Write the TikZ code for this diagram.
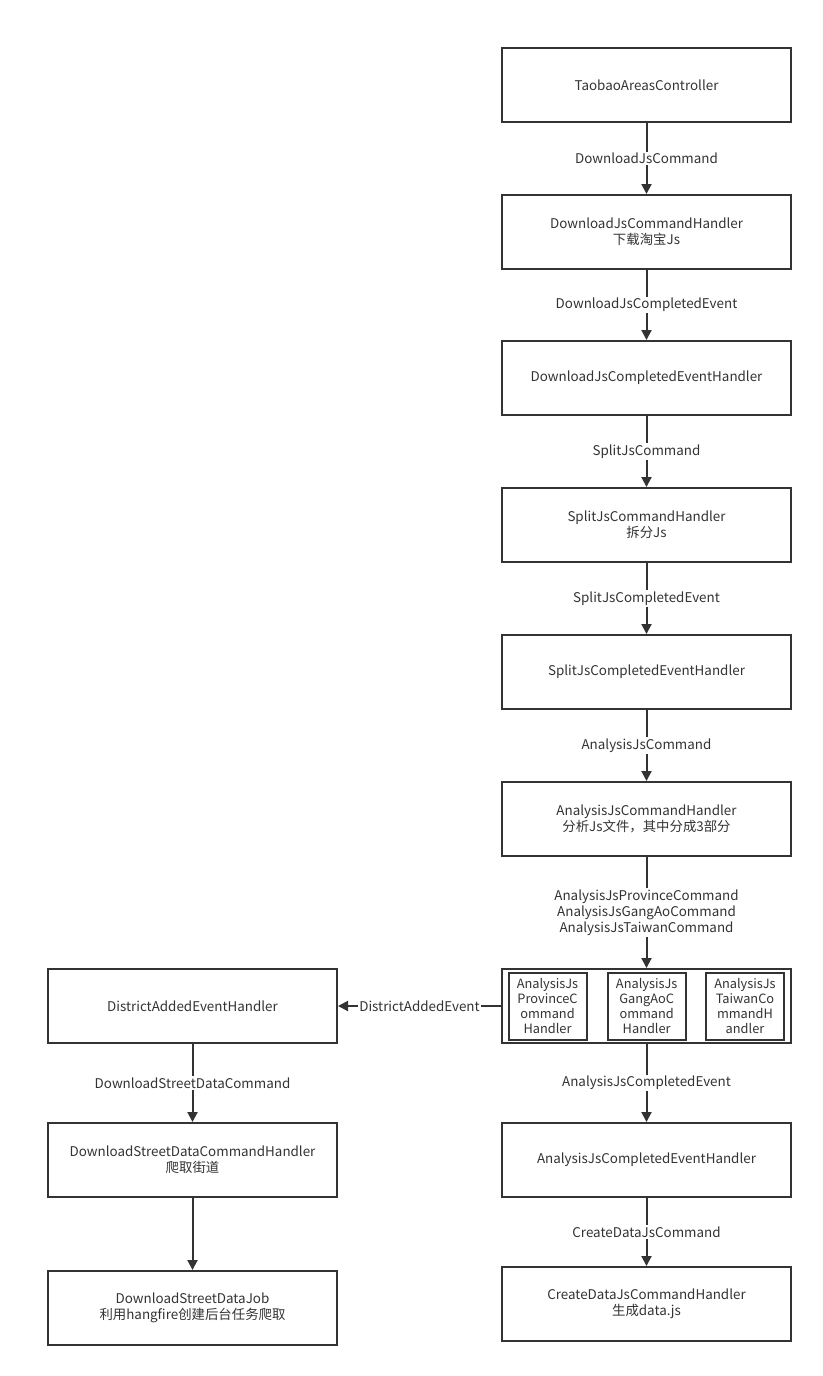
\documentclass[tikz,border=0pt]{standalone}
\usepackage{fontspec}
\setmainfont{Noto Sans CJK SC}
\usetikzlibrary{arrows.meta}
\definecolor{ln}{HTML}{333333}
\definecolor{tx}{HTML}{333333}
\tikzset{
  box/.style={draw=ln, line width=2pt, minimum width=289pt, minimum height=74pt, inner sep=0pt, align=center, text=tx, font=\fontsize{13.4}{16}\selectfont},
  inbox/.style={draw=ln, line width=2pt, minimum width=78pt, minimum height=67pt, inner sep=0pt, align=center, text=tx, font=\fontsize{12.8}{15}\selectfont},
  conn/.style={draw=ln, line width=2pt, -{Triangle[length=10pt,width=10pt]}},
  lab/.style={fill=white, inner sep=1.5pt, text=tx, align=center, font=\fontsize{13.4}{16}\selectfont}
}
\begin{document}
\begin{tikzpicture}[x=1pt,y=-1pt]
\useasboundingbox (0,0) rectangle (822,1376);
% right column
\node[box] (a) at (646.5,85) {TaobaoAreasController};
\node[box] (b) at (646.5,232) {DownloadJsCommandHandler\\下载淘宝Js};
\node[box] (c) at (646.5,378) {DownloadJsCompletedEventHandler};
\node[box] (d) at (646.5,525) {SplitJsCommandHandler\\拆分Js};
\node[box] (e) at (646.5,672) {SplitJsCompletedEventHandler};
\node[box] (f) at (646.5,819) {AnalysisJsCommandHandler\\分析Js文件，其中分成3部分};
\node[box] (g) at (646.5,1006) {};
\node[inbox] (g1) at (547.5,1006.3) {AnalysisJs\\ProvinceC\\ommand\\Handler};
\node[inbox] (g2) at (646.7,1006.3) {AnalysisJs\\GangAoC\\ommand\\Handler};
\node[inbox] (g3) at (745,1006.3) {AnalysisJs\\TaiwanCo\\mmandH\\andler};
\node[box] (h) at (646.5,1160) {AnalysisJsCompletedEventHandler};
\node[box] (i) at (646.5,1304) {CreateDataJsCommandHandler\\生成data.js};
% left column
\node[box] (l1) at (192.5,1006) {DistrictAddedEventHandler};
\node[box] (l2) at (192.5,1160) {DownloadStreetDataCommandHandler\\爬取街道};
\node[box] (l3) at (192.5,1308) {DownloadStreetDataJob\\利用hangfire创建后台任务爬取};
% connectors
\draw[conn] (a) -- node[lab] {DownloadJsCommand} (b);
\draw[conn] (b) -- node[lab] {DownloadJsCompletedEvent} (c);
\draw[conn] (c) -- node[lab] {SplitJsCommand} (d);
\draw[conn] (d) -- node[lab] {SplitJsCompletedEvent} (e);
\draw[conn] (e) -- node[lab] {AnalysisJsCommand} (f);
\draw[conn] (f) -- node[lab] {AnalysisJsProvinceCommand\\AnalysisJsGangAoCommand\\AnalysisJsTaiwanCommand} (g);
\draw[conn] (g) -- node[lab] {AnalysisJsCompletedEvent} (h);
\draw[conn] (h) -- node[lab] {CreateDataJsCommand} (i);
\draw[conn] (g) -- node[lab] {DistrictAddedEvent} (l1);
\draw[conn] (l1) -- node[lab] {DownloadStreetDataCommand} (l2);
\draw[conn] (l2) -- (l3);
\end{tikzpicture}
\end{document}
